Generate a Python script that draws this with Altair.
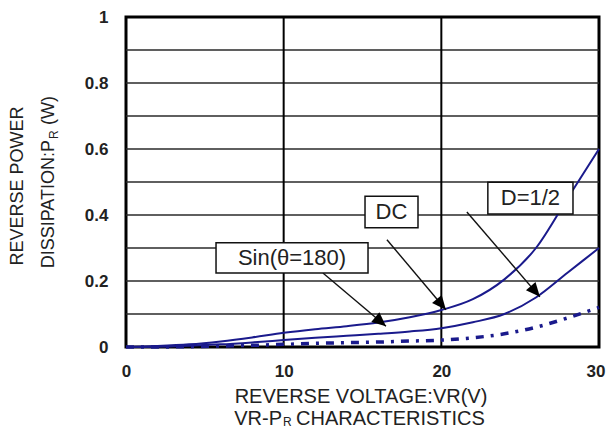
import math
import altair as alt
import pandas as pd

# ---------------- data ----------------
vr = [0, 2, 4, 6, 8, 10, 12, 14, 16, 18, 20, 22, 24, 26, 28, 30]
p_dc = [0, 0.003, 0.008, 0.017, 0.029, 0.043, 0.054, 0.063, 0.074, 0.09, 0.112, 0.145, 0.205, 0.30, 0.45, 0.60]
p_half = [0, 0.001, 0.004, 0.008, 0.014, 0.021, 0.028, 0.034, 0.04, 0.047, 0.057, 0.075, 0.10, 0.15, 0.225, 0.30]
p_low = [0, 0, 0.001, 0.003, 0.005, 0.008, 0.011, 0.013, 0.015, 0.018, 0.021, 0.028, 0.04, 0.06, 0.088, 0.12]

x_ticks = [0, 10, 20, 30]
x_grid = [10, 20]
y_ticks = [0, 0.2, 0.4, 0.6, 0.8, 1.0]
y_grid = [0.1, 0.2, 0.3, 0.4, 0.5, 0.6, 0.7, 0.8, 0.9]

# annotation boxes
box_label = ["DC", "Sin(θ=180)", "D=1/2"]
box_x1 = [15.16, 5.71, 22.95]
box_x2 = [18.52, 15.35, 28.35]
box_y1 = [0.361, 0.224, 0.403]
box_y2 = [0.457, 0.316, 0.499]
box_tx = [16.84, 10.53, 25.65]
box_ty = [0.409, 0.270, 0.451]

# arrows: start -> tip
arr_x0 = [16.55, 12.49, 21.62]
arr_y0 = [0.325, 0.224, 0.409]
arr_x1 = [20.29, 16.49, 26.25]
arr_y1 = [0.113, 0.063, 0.152]

# ---------------- layout ----------------
W, H = 473, 330
XMAX, YMAX = 30, 1.0
FONT = "Liberation Sans"
NAVY = "#1a1a8c"
TXT = "#222222"

df_dc = pd.DataFrame({"v": vr, "p": p_dc})
df_half = pd.DataFrame({"v": vr, "p": p_half})
df_low = pd.DataFrame({"v": vr, "p": p_low})

xs = alt.Scale(domain=[0, XMAX], nice=False, zero=True)
ys = alt.Scale(domain=[0, YMAX], nice=False, zero=True)

xaxis = alt.Axis(values=x_ticks, format="d", grid=False,
                 ticks=False, domain=False, labelFont=FONT, labelFontSize=17,
                 labelFontWeight="bold", labelColor=TXT, labelPadding=16, title=None,
                 labelFlush=False,
                 labelAlign={"condition": {"test": "datum.value == 30", "value": "right"}, "value": "center"},
                 labelOffset={"condition": {"test": "datum.value == 30", "value": 6}, "value": 0})
yaxis = alt.Axis(values=y_ticks, format=".1~f", grid=False,
                 ticks=False, domain=False, labelFont=FONT, labelFontSize=17,
                 labelFontWeight="bold", labelColor=TXT, labelPadding=18, title=None,
                 labelFlush=False)

hgrid = alt.Chart(pd.DataFrame({"g": y_grid})).mark_rule(color="#2a2a2a", strokeWidth=1.5).encode(
    y=alt.Y("g:Q", scale=ys, axis=yaxis)
)
vgrid = alt.Chart(pd.DataFrame({"g": x_grid})).mark_rule(color="#000", strokeWidth=2).encode(
    x=alt.X("g:Q", scale=xs, axis=xaxis)
)

line_dc = alt.Chart(df_dc).mark_line(color=NAVY, strokeWidth=2, interpolate="monotone").encode(
    x=alt.X("v:Q", scale=xs), y=alt.Y("p:Q", scale=ys)
)
line_half = alt.Chart(df_half).mark_line(color=NAVY, strokeWidth=2, interpolate="monotone").encode(
    x=alt.X("v:Q", scale=xs), y=alt.Y("p:Q", scale=ys)
)
line_low = alt.Chart(df_low).mark_line(color=NAVY, strokeWidth=3.5, interpolate="monotone",
                                       strokeDash=[8, 7, 3, 7]).encode(
    x=alt.X("v:Q", scale=xs), y=alt.Y("p:Q", scale=ys)
)

# arrows
pxv = W / XMAX
pyv = H / YMAX
angles = []
for a, b, c, d in zip(arr_x0, arr_y0, arr_x1, arr_y1):
    dx = (c - a) * pxv
    dy = -(d - b) * pyv
    angles.append(math.degrees(math.atan2(dx, -dy)) % 360)
df_arr = pd.DataFrame({"x0": arr_x0, "y0": arr_y0, "x1": arr_x1, "y1": arr_y1, "ang": angles})

arrow_lines = alt.Chart(df_arr).mark_rule(color="#111", strokeWidth=1.4).encode(
    x=alt.X("x0:Q", scale=xs), y=alt.Y("y0:Q", scale=ys),
    x2="x1:Q", y2="y1:Q",
)
arrow_heads = alt.Chart(df_arr).mark_point(
    shape="M0,0 L-0.45,1 L0.45,1 Z", filled=True, color="#000", opacity=1, size=784
).encode(
    x=alt.X("x1:Q", scale=xs), y=alt.Y("y1:Q", scale=ys),
    angle=alt.Angle("ang:Q", scale=None),
)

df_box = pd.DataFrame({"label": box_label, "x1": box_x1, "x2": box_x2, "y1": box_y1,
                       "y2": box_y2, "tx": box_tx, "ty": box_ty})
boxes = alt.Chart(df_box).mark_rect(fill="white", stroke="#111", strokeWidth=1.5).encode(
    x=alt.X("x1:Q", scale=xs), x2="x2:Q",
    y=alt.Y("y1:Q", scale=ys), y2="y2:Q",
)
box_text = alt.Chart(df_box).mark_text(font=FONT, fontSize=22, color=TXT, baseline="middle",
                                       align="center").encode(
    x=alt.X("tx:Q", scale=xs), y=alt.Y("ty:Q", scale=ys), text="label:N"
)


def txt(text, x, y, size, align="center", angle=0, dy=0):
    return alt.Chart(pd.DataFrame({"t": [text]})).mark_text(
        font=FONT, fontSize=size, color=TXT, align=align, baseline="middle", angle=angle, dy=dy
    ).encode(x=alt.value(x), y=alt.value(y), text="t:N")


titles = [
    txt("REVERSE VOLTAGE:VR(V)", 235, 380, 20),
    txt("VR-P", 156, 402, 20, align="right"),
    txt("R", 157, 402, 12, align="left", dy=3),
    txt("CHARACTERISTICS", 170, 402, 20, align="left"),
    txt("REVERSE POWER", -108, 169, 18, angle=270),
    txt("DISSIPATION:P", -77, 123, 18, align="right", angle=270),
    txt("R", -72, 122, 12, align="left", angle=270),
    txt("(W)", -77, 108, 18, align="left", angle=270),
]

chart = alt.layer(
    hgrid, vgrid, line_dc, line_half, line_low, arrow_lines, arrow_heads, boxes, box_text, *titles
).properties(
    width=W, height=H,
    autosize=alt.AutoSizeParams(type="none"),
    padding={"left": 118, "top": 9, "right": 7, "bottom": 81},
).configure_view(
    stroke="#000", strokeWidth=3
)

chart.save("out.html", embed_options={"renderer": "svg", "actions": False})
